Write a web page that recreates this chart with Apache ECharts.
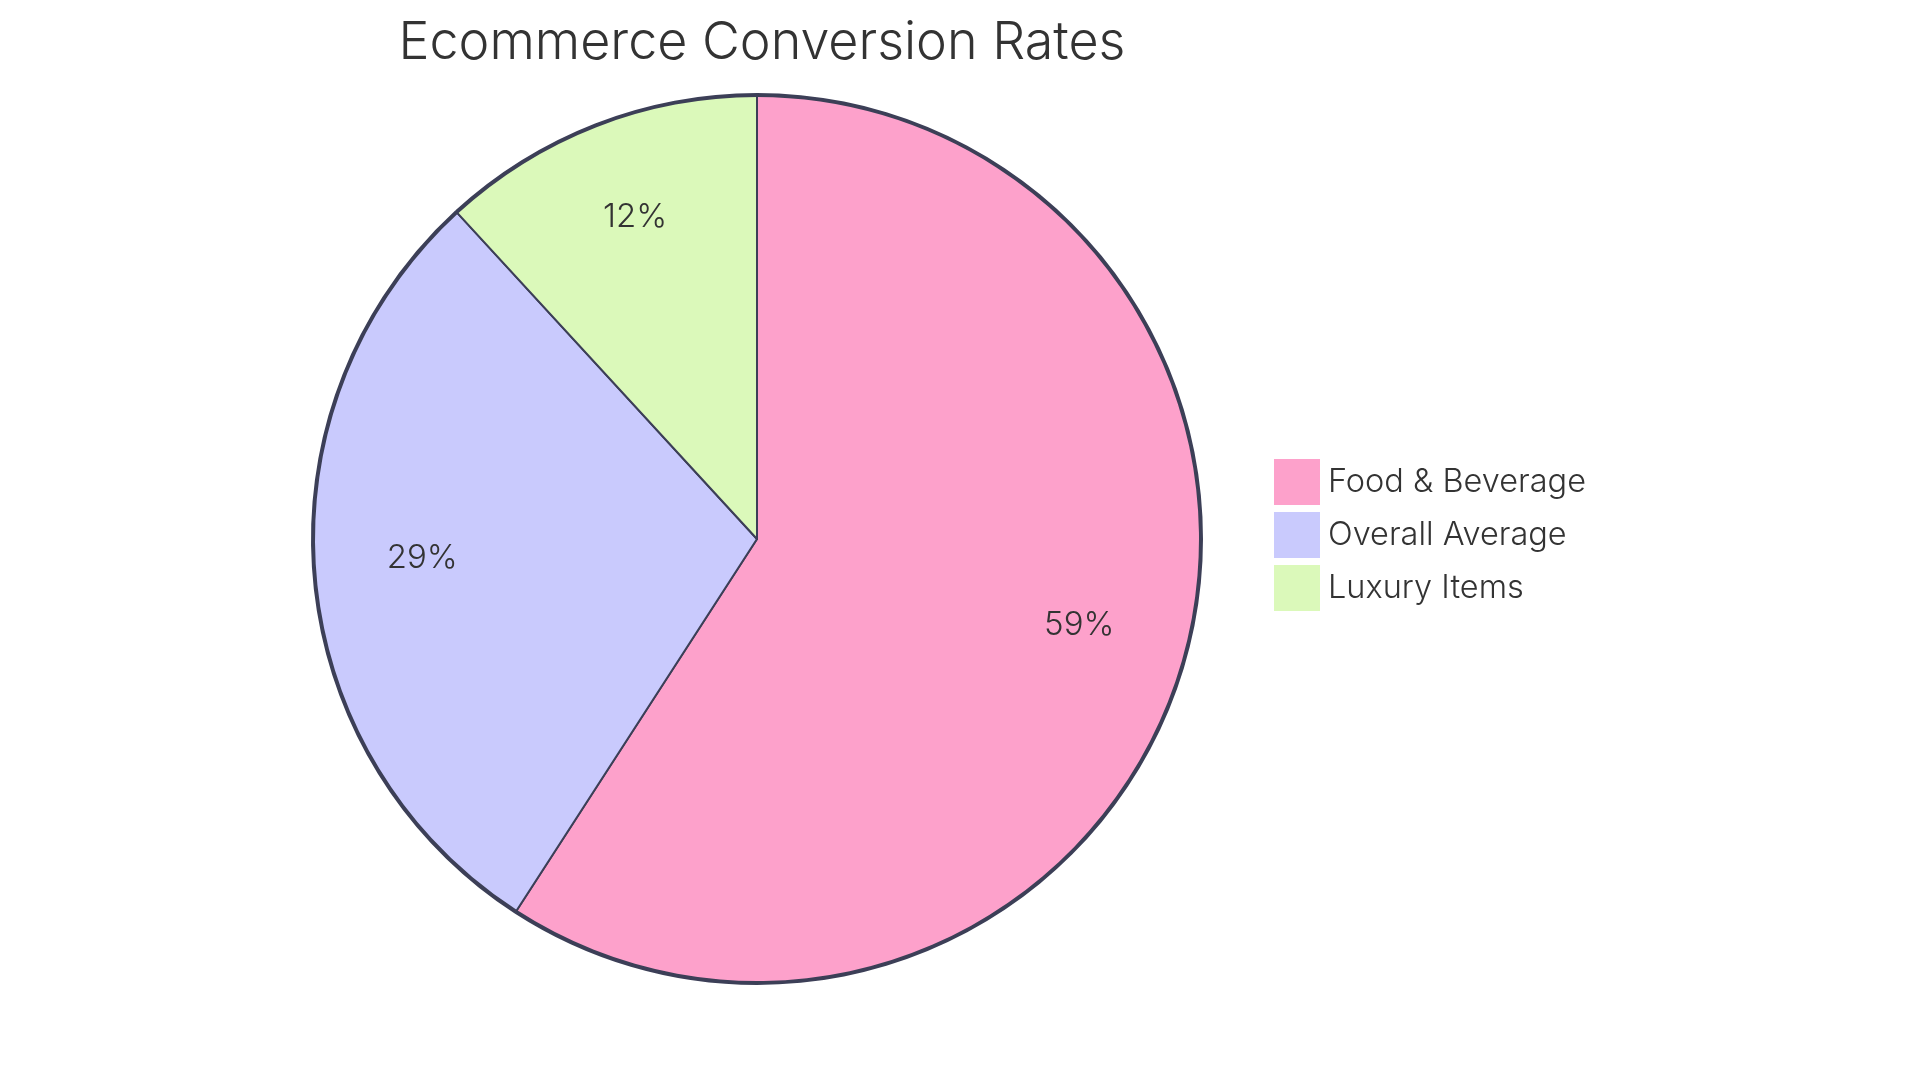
<!DOCTYPE html>
<html>
<head>
<meta charset="utf-8">
<script src="https://cdn.jsdelivr.net/npm/echarts@6/dist/echarts.min.js"></script>
<style>
html,body{margin:0;padding:0;background:#fff;}
#chart{width:1920px;height:1083px;}
</style>
</head>
<body>
<div id="chart"></div>
<script>
const titleText = "Ecommerce Conversion Rates";
const categories = ["Food & Beverage", "Overall Average", "Luxury Items"];
const values = [5.5, 2.7, 1.1];
const colors = ["#FDA1CB", "#C9CAFD", "#DBF9BA"];

const FONT = "Inter, 'Noto Sans', sans-serif";
const STROKE = "#3C3F57";
const data = categories.map((name, i) => ({ name: name, value: values[i], itemStyle: { color: colors[i] } }));

const chart = echarts.init(document.getElementById('chart'), null, { renderer: 'canvas' });
chart.setOption({
  backgroundColor: '#ffffff',
  animation: false,
  title: {
    text: titleText,
    left: 757,
    textAlign: 'center',
    top: 12,
    textStyle: { fontFamily: FONT, fontSize: 52, fontWeight: 300, color: '#333333' }
  },
  legend: {
    orient: 'vertical',
    left: 1274,
    top: 459,
    padding: 0,
    itemWidth: 46,
    itemHeight: 46,
    itemGap: 7,
    icon: 'rect',
    data: categories,
    itemStyle: { borderWidth: 0 },
    textStyle: { fontFamily: FONT, fontSize: 32.5, fontWeight: 300, color: '#333333', padding: [0, 0, 0, 3] }
  },
  series: [
    {
      type: 'pie',
      center: [757, 539],
      radius: [0, 444],
      startAngle: 90,
      clockwise: true,
      silent: true,
      label: { show: false },
      labelLine: { show: false },
      itemStyle: { borderColor: STROKE, borderWidth: 2 },
      emphasis: { disabled: true },
      data: data
    },
    {
      type: 'pie',
      center: [757, 539],
      radius: [442, 446],
      startAngle: 90,
      silent: true,
      label: { show: false },
      labelLine: { show: false },
      itemStyle: { color: STROKE, borderWidth: 0 },
      emphasis: { disabled: true },
      data: categories.map((name, i) => ({ name: name, value: values[i] }))
    },
    {
      type: 'pie',
      center: [757, 539],
      radius: [222, 444],
      startAngle: 90,
      silent: true,
      percentPrecision: 0,
      label: {
        show: true,
        position: 'inside',
        formatter: '{d}%',
        fontFamily: FONT,
        fontSize: 33,
        fontWeight: 300,
        color: '#333333',
        textBorderWidth: 0,
        offset: [0, -9]
      },
      labelLine: { show: false },
      itemStyle: { color: 'rgba(0,0,0,0)', borderWidth: 0 },
      emphasis: { disabled: true },
      data: categories.map((name, i) => ({ name: name, value: values[i] }))
    }
  ]
});
</script>
</body>
</html>
